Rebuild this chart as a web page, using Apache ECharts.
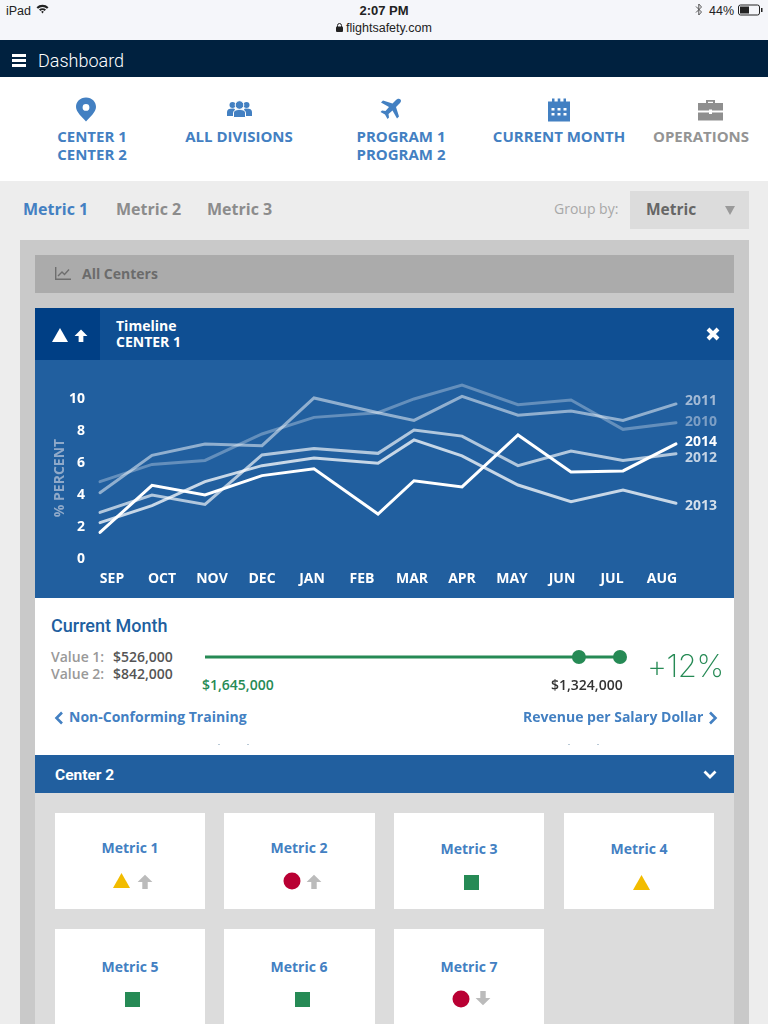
<!DOCTYPE html>
<html>
<head>
<meta charset="utf-8">
<title>Dashboard</title>
<script src="https://cdn.jsdelivr.net/npm/echarts@6/dist/echarts.min.js"></script>
<style>
  html, body { margin: 0; padding: 0; }
  body { width: 768px; height: 1024px; overflow: hidden; position: relative; background: #ededed; font-family: "Open Sans", sans-serif; }
  .box, .t, svg { position: absolute; }
  .t { white-space: nowrap; line-height: 1; }
  .c { transform: translateX(-50%); text-align: center; }
  .nav { font-size: 15px; font-weight: 700; color: #4380c2; line-height: 18px; }
  .tab { font-size: 16px; font-weight: 700; color: #8c8c8c; }
  .tile { position: absolute; width: 151px; height: 96px; background: #fff; }
  .tile .t { left: 75px; top: 28px; font-size: 14px; font-weight: 700; color: #4380c2; }
  .link { font-size: 14px; font-weight: 700; color: #4380c2; }
  .speck { position: absolute; top: 744px; width: 2px; height: 1px; background: #b9c9d6; }
</style>
</head>
<body>

<!-- status bar -->
<div class="box" style="left:0;top:0;width:768px;height:40px;background:#f5f6fa"></div>
<div class="t" style="left:6px;top:4px;font:12.5px 'Liberation Sans';color:#222">iPad</div>
<svg style="left:36px;top:4px" width="13" height="10" viewBox="0 0 13 10"><path d="M0.5 3.2A8.5 8.5 0 0 1 12.5 3.2L11 4.8A6.4 6.4 0 0 0 2 4.8ZM3 5.6A5 5 0 0 1 10 5.6L8.6 7A3 3 0 0 0 4.4 7ZM5.2 7.8A1.8 1.8 0 0 1 7.8 7.8L6.5 9.5Z" fill="#222"/></svg>
<div class="t c" style="left:384px;top:3px;font:bold 13px 'Liberation Sans';color:#222">2:07 PM</div>
<div class="t c" style="left:389px;top:21px;font:12.5px 'Liberation Sans';color:#222">flightsafety.com</div>
<svg style="left:336px;top:23px" width="7" height="9" viewBox="0 0 7 9"><rect x="0" y="3.5" width="7" height="5.5" rx="1" fill="#222"/><path d="M1.5 4V2.5a2 2 0 0 1 4 0V4" fill="none" stroke="#222"/></svg>
<svg style="left:695px;top:3px" width="8" height="13" viewBox="0 0 8 13"><path d="M1 3.5L6.5 9L3.8 12V1L6.5 4L1 9.5" fill="none" stroke="#555" stroke-width="1"/></svg>
<div class="t" style="left:709px;top:4px;font:12.5px 'Liberation Sans';color:#222">44%</div>
<svg style="left:738px;top:4px" width="26" height="12" viewBox="0 0 26 12"><rect x="0.5" y="1" width="21" height="10" rx="2" fill="none" stroke="#222"/><rect x="2" y="2.5" width="9" height="7" fill="#222"/><rect x="23" y="4" width="1.5" height="4" fill="#222"/></svg>

<!-- top bar -->
<div class="box" style="left:0;top:40px;width:768px;height:37px;background:#00213f"></div>
<div class="box" style="left:12px;top:54px;width:14px;height:3px;background:#fff"></div>
<div class="box" style="left:12px;top:59px;width:14px;height:3px;background:#fff"></div>
<div class="box" style="left:12px;top:64px;width:14px;height:3px;background:#fff"></div>
<div class="t" style="left:38px;top:50px;font:300 18px Roboto;color:#fff">Dashboard</div>

<!-- filter row -->
<div class="box" style="left:0;top:77px;width:768px;height:104px;background:#fff"></div>
<svg style="left:75px;top:97px" width="22" height="25" viewBox="0 0 22 25"><path fill-rule="evenodd" d="M11 0.5C5 0.5 1 4.8 1 10C1 15 7 20 11 24.5C15 20 21 15 21 10C21 4.8 17 0.5 11 0.5ZM11 7A3.4 3.4 0 1 1 11 13.8A3.4 3.4 0 1 1 11 7Z" fill="#4380c2"/></svg>
<svg style="left:227px;top:100px" width="25" height="18" viewBox="0 0 25 18" fill="#4380c2"><circle cx="5.5" cy="5" r="3"/><circle cx="19.5" cy="5" r="3"/><path d="M0 16V12C0 9.5 2 8.5 5.5 8.5C7 8.5 8 9 8 9L6 16Z"/><path d="M25 16V12C25 9.5 23 8.5 19.5 8.5C18 8.5 17 9 17 9L19 16Z"/><circle cx="12.5" cy="5" r="4.3" stroke="#fff"/><path d="M6.5 17.5V13C6.5 10.5 9 9.5 12.5 9.5C16 9.5 18.5 10.5 18.5 13V17.5Z" stroke="#fff"/></svg>
<svg style="left:379px;top:98px" width="23" height="23" viewBox="0 0 23 23"><path d="M21.5 1.5C20 0.2 18 1 16.5 2.5L13.5 5.5L4 2.5L2 4.5L10 9L6.5 13L3 12.5L1.5 14L6 16.5L8.5 21L10 19.5L9.5 16L13.5 12.5L18 20.5L20 18.5L17 9L20 6C21.5 4.5 22.8 3 21.5 1.5Z" fill="#4380c2"/></svg>
<svg style="left:548px;top:98px" width="22" height="24" viewBox="0 0 22 24"><path fill-rule="evenodd" d="M0 3.5H4V0.5H6.5V3.5H9.7V0.5H12.3V3.5H15.5V0.5H18V3.5H22V23.5H0ZM3.5 10V12.5H6.5V10ZM9.5 10V12.5H12.5V10ZM15.5 10V12.5H18.5V10ZM3.5 15V17.5H6.5V15ZM9.5 15V17.5H12.5V15ZM15.5 15V17.5H18.5V15Z" fill="#4380c2"/></svg>
<svg style="left:698px;top:99px" width="25" height="22" viewBox="0 0 25 22"><path fill-rule="evenodd" d="M8 4V1H17V4H25V11.5H14V10.5H11V11.5H0V4ZM10 4H15V2.8H10ZM0 13.5H11V15H14V13.5H25V21.5H0Z" fill="#8f8f8f"/></svg>
<div class="t nav c" style="left:92px;top:127px">CENTER 1<br>CENTER 2</div>
<div class="t nav c" style="left:239px;top:127px">ALL DIVISIONS</div>
<div class="t nav c" style="left:401px;top:127px">PROGRAM 1<br>PROGRAM 2</div>
<div class="t nav c" style="left:559px;top:127px">CURRENT MONTH</div>
<div class="t nav c" style="left:701px;top:127px;color:#949494">OPERATIONS</div>

<!-- tabs -->
<div class="t tab" style="left:23px;top:201px;color:#4380c2">Metric 1</div>
<div class="t tab" style="left:116px;top:201px">Metric 2</div>
<div class="t tab" style="left:207px;top:201px">Metric 3</div>
<div class="t" style="left:554px;top:202px;font-size:14px;color:#a8a8a8">Group by:</div>
<div class="box" style="left:630px;top:191px;width:119px;height:38px;background:#dcdcdc"></div>
<div class="t" style="left:646px;top:202px;font-size:15.5px;font-weight:700;color:#666">Metric</div>
<svg style="left:725px;top:206px" width="10" height="9"><path d="M0 0H10L5 9Z" fill="#9a9a9a"/></svg>

<!-- panel -->
<div class="box" style="left:20px;top:240px;width:729px;height:784px;background:#c9c9c9"></div>
<div class="box" style="left:35px;top:255px;width:699px;height:38px;background:#ababab"></div>
<svg style="left:55px;top:267px" width="16" height="13" viewBox="0 0 16 13"><path d="M0.7 0V12.3H16M3 9L7 5L9.5 7.5L14 2.5" fill="none" stroke="#6e6e6e" stroke-width="1.4"/></svg>
<div class="t" style="left:82px;top:267px;font-size:14px;font-weight:700;color:#6b6b6b">All Centers</div>

<div class="box" style="left:35px;top:308px;width:699px;height:52px;background:#0f4f93"></div>
<div class="box" style="left:35px;top:308px;width:65px;height:52px;background:#003f85"></div>
<svg style="left:52px;top:328px" width="16" height="14"><path d="M8 0L16 14H0Z" fill="#fff"/></svg>
<svg style="left:74px;top:329px" width="14" height="13" viewBox="0 0 13 12"><path d="M6.5 0.5L12.5 6.5H8.7V12H4.3V6.5H0.5Z" fill="#fff"/></svg>
<div class="t" style="left:116px;top:318px;font-size:14px;font-weight:700;color:#fff;line-height:16px">Timeline<br>CENTER 1</div>
<svg style="left:706px;top:327px" width="14" height="14" viewBox="0 0 14 14"><path d="M2 2L12 12M12 2L2 12" stroke="#fff" stroke-width="4"/></svg>

<div id="timeline" class="box" style="left:35px;top:360px;width:699px;height:238px;background:#215f9f"></div>

<div class="box" style="left:35px;top:598px;width:699px;height:157px;background:#fff"></div>
<div class="t" style="left:51px;top:615px;font:500 18px Roboto;color:#215f9f">Current Month</div>
<div class="t" style="left:51px;top:650px;font-size:14px;font-weight:600;color:#999">Value 1:</div>
<div class="t" style="left:113px;top:650px;font-size:14px;font-weight:600;color:#555">$526,000</div>
<div class="t" style="left:51px;top:667px;font-size:14px;font-weight:600;color:#999">Value 2:</div>
<div class="t" style="left:113px;top:667px;font-size:14px;font-weight:600;color:#555">$842,000</div>
<div id="slider" class="box" style="left:190px;top:642px;width:445px;height:30px"></div>
<div class="t" style="left:202px;top:678px;font-size:14px;font-weight:600;color:#268a55">$1,645,000</div>
<div class="t" style="left:551px;top:678px;font-size:14px;font-weight:600;color:#333">$1,324,000</div>
<div class="t" style="left:647px;top:647px;font:200 31px Inter,'Open Sans';letter-spacing:-0.5px;color:#268a55">+12%</div>
<svg style="left:54px;top:711px" width="10" height="14" viewBox="0 0 10 14"><path d="M8 1.5L2.5 7L8 12.5" fill="none" stroke="#4380c2" stroke-width="2.6"/></svg>
<div class="t link" style="left:69px;top:710px">Non-Conforming Training</div>
<div class="t link" style="left:523px;top:710px">Revenue per Salary Dollar</div>
<svg style="left:708px;top:711px" width="10" height="14" viewBox="0 0 10 14"><path d="M2 1.5L7.5 7L2 12.5" fill="none" stroke="#4380c2" stroke-width="2.6"/></svg>
<div class="speck" style="left:218px"></div>
<div class="speck" style="left:247px"></div>
<div class="speck" style="left:568px"></div>
<div class="speck" style="left:597px"></div>

<div class="box" style="left:35px;top:755px;width:699px;height:38px;background:#215f9f"></div>
<div class="t" style="left:55px;top:766px;font:700 15.5px Roboto;color:#fff">Center 2</div>
<svg style="left:703px;top:770px" width="14" height="10" viewBox="0 0 14 10"><path d="M1.5 1.5L7 7L12.5 1.5" fill="none" stroke="#fff" stroke-width="2.8"/></svg>

<div class="box" style="left:35px;top:793px;width:699px;height:231px;background:#dcdcdc"></div>
<div class="tile" style="left:55px;top:813px;width:150px"><div class="t c">Metric 1</div>
  <svg style="left:58px;top:60px" width="17" height="15"><path d="M8.5 0L17 15H0Z" fill="#f2bc00"/></svg>
  <svg style="left:82px;top:61px" width="16" height="15" viewBox="0 0 13 12"><path d="M6.5 0.5L12.5 6.5H8.7V12H4.3V6.5H0.5Z" fill="#bbb"/></svg></div>
<div class="tile" style="left:224px;top:813px"><div class="t c">Metric 2</div>
  <svg style="left:59px;top:59px" width="18" height="18"><circle cx="9" cy="9" r="8.5" fill="#b90033"/></svg>
  <svg style="left:82px;top:61px" width="16" height="15" viewBox="0 0 13 12"><path d="M6.5 0.5L12.5 6.5H8.7V12H4.3V6.5H0.5Z" fill="#bbb"/></svg></div>
<div class="tile" style="left:394px;top:813px;width:150px"><div class="t c" style="top:29px">Metric 3</div>
  <svg style="left:70px;top:62px" width="15" height="15"><rect width="15" height="15" fill="#268a55"/></svg></div>
<div class="tile" style="left:564px;top:813px;width:150px"><div class="t c" style="top:29px">Metric 4</div>
  <svg style="left:69px;top:62px" width="17" height="15"><path d="M8.5 0L17 15H0Z" fill="#f2bc00"/></svg></div>
<div class="tile" style="left:55px;top:929px;width:150px"><div class="t c" style="top:31px">Metric 5</div>
  <svg style="left:70px;top:63px" width="15" height="15"><rect width="15" height="15" fill="#268a55"/></svg></div>
<div class="tile" style="left:224px;top:929px"><div class="t c" style="top:31px">Metric 6</div>
  <svg style="left:71px;top:63px" width="15" height="15"><rect width="15" height="15" fill="#268a55"/></svg></div>
<div class="tile" style="left:394px;top:929px;width:150px"><div class="t c" style="top:31px">Metric 7</div>
  <svg style="left:58px;top:61px" width="18" height="18"><circle cx="9" cy="9" r="8.5" fill="#b90033"/></svg>
  <svg style="left:81px;top:62px;transform:rotate(180deg)" width="16" height="15" viewBox="0 0 13 12"><path d="M6.5 0.5L12.5 6.5H8.7V12H4.3V6.5H0.5Z" fill="#bbb"/></svg></div>

<script>
const months = ['SEP', 'OCT', 'NOV', 'DEC', 'JAN', 'FEB', 'MAR', 'APR', 'MAY', 'JUN', 'JUL', 'AUG']
// the line knots don't sit under the month labels, position in months
const knots = [-0.24, 0.8, 1.86, 3.0, 4.04, 5.32, 6.04, 7.0, 8.12, 9.18, 10.22, 11.28]

const y2010 = [4.77, 5.85, 6.1, 7.75, 8.79, 9.08, 9.94, 10.81, 9.58, 9.88, 8.04, 8.46]
const y2011 = [4.08, 6.42, 7.13, 7.02, 10.0, 9.08, 8.6, 10.1, 8.92, 9.19, 8.6, 9.63]
const y2012 = [2.85, 3.94, 3.35, 6.44, 6.85, 6.54, 8.0, 7.62, 5.77, 6.69, 6.1, 6.52]
const y2013 = [2.21, 3.27, 4.77, 5.77, 6.25, 5.92, 7.38, 6.38, 4.56, 3.52, 4.25, 3.42]
const y2014 = [1.6, 4.54, 3.94, 5.15, 5.58, 2.75, 4.83, 4.44, 7.69, 5.38, 5.44, 7.13]

const yTicks = { min: 0, max: 10, interval: 2 }

// percent of the bar where the two dots sit
const barStops = [0, 90.1, 100]

const font = '"Open Sans", sans-serif'

function yearLine(name, values, opacity, width, labelColor, dy) {
  return {
    name: name,
    type: 'line',
    xAxisIndex: 1,
    data: knots.map((k, i) => [k, values[i]]),
    symbol: 'none',
    clip: false,
    silent: true,
    animation: false,
    lineStyle: { color: '#fff', width: width, opacity: opacity, cap: 'round', join: 'miter' },
    endLabel: {
      show: true,
      formatter: '{a}',
      distance: 9,
      offset: [0, dy],
      color: labelColor,
      fontFamily: font,
      fontSize: 14,
      fontWeight: 700
    }
  }
}

(function(){
  const chart = echarts.init(document.querySelector('#timeline'))
  chart.setOption({
    animation: false,
    grid: { left: 52, top: 38, width: 600, height: 160 },
    xAxis: [
      {
        type: 'category',
        data: months,
        axisLine: { show: false },
        axisTick: { show: false },
        splitLine: { show: false },
        axisLabel: { color: '#fff', fontFamily: font, fontSize: 14, fontWeight: 700, margin: 14, interval: 0 }
      },
      { type: 'value', min: -0.5, max: 11.5, show: false, splitLine: { show: false } }
    ],
    yAxis: {
      type: 'value',
      min: yTicks.min,
      max: yTicks.max,
      interval: yTicks.interval,
      name: '% PERCENT',
      nameLocation: 'middle',
      nameGap: 20,
      nameMoveOverlap: false,
      nameRotate: 90,
      nameTextStyle: { color: '#8fa9c9', fontFamily: font, fontSize: 14, fontWeight: 700 },
      axisLine: { show: false },
      axisTick: { show: false },
      splitLine: { show: false },
      axisLabel: { color: '#fff', fontFamily: font, fontSize: 14, fontWeight: 700, margin: 2, verticalAlign: 'top', lineHeight: 2 }
    },
    series: [
      yearLine('2010', y2010, 0.3, 3, '#7d9fc5', -1),
      yearLine('2011', y2011, 0.5, 3, '#a3bad5', -3),
      yearLine('2012', y2012, 0.65, 3, '#c4d3e4', 4),
      yearLine('2013', y2013, 0.75, 3, '#d3dfeb', 3),
      yearLine('2014', y2014, 1, 3, '#ffffff', -2)
    ]
  })
})();

(function(){
  const chart = echarts.init(document.querySelector('#slider'))
  chart.setOption({
    animation: false,
    grid: { left: 15, right: 15, top: 0, bottom: 0 },
    xAxis: { type: 'value', min: 0, max: 100, show: false },
    yAxis: { type: 'value', min: 0, max: 2, show: false },
    series: [{
      type: 'line',
      data: barStops.map(s => [s, 1]),
      symbol: 'circle',
      symbolSize: (v, p) => p.dataIndex === 0 ? 0 : 14,
      silent: true,
      clip: false,
      lineStyle: { color: '#268a55', width: 3 },
      itemStyle: { color: '#268a55' }
    }]
  })
})()
</script>
</body>
</html>
